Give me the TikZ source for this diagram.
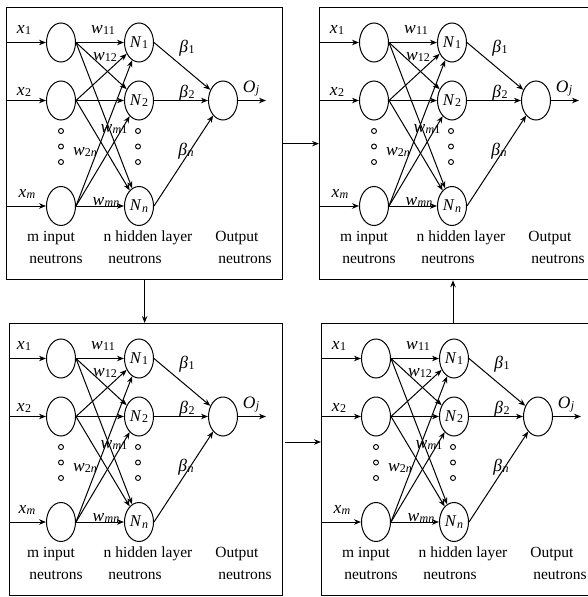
\documentclass[tikz,border=0pt]{standalone}
\usepackage{fontspec}
\setmainfont{Liberation Serif}
\usetikzlibrary{shapes.geometric,arrows.meta,calc}

% italic symbol with a subscript, set in the text font
\newcommand\symb[2]{\textit{#1}\kern0.3pt\raisebox{-1.5pt}{\fontsize{12}{13}\selectfont #2}}

\tikzset{
  neuron/.style={draw, ellipse, minimum width=29pt, minimum height=39pt,
    inner sep=0pt, line width=1pt, font=\fontsize{16.5}{18}\selectfont},
  dotc/.style={draw, circle, minimum size=5pt, inner sep=0pt, line width=0.9pt},
  link/.style={-{Stealth[length=7pt,width=5.5pt]}, line width=1pt},
  lbl/.style={font=\fontsize{15.5}{18}\selectfont, inner sep=0pt, anchor=base},
  mlbl/.style={font=\fontsize{17.5}{19}\selectfont, inner sep=0pt, anchor=base},
  panelbox/.style={draw, line width=1.3pt, inner sep=0pt, anchor=north west},
  % one single-hidden-layer network; #1 = where the input lines start
  panel/.pic={
    % neurons
    \node[neuron] (-in1) at (55,35.5) {};
    \node[neuron] (-in2) at (55,93.5) {};
    \node[neuron] (-inm) at (55,199) {};
    \node[neuron] (-h1) at (133,35.5) {\symb{N}{1}};
    \node[neuron] (-h2) at (133,93.5) {\symb{N}{2}};
    \node[neuron] (-hn) at (133,199) {\symb{N}{\textit{n}}};
    \node[neuron] (-out) at (217,93.5) {};
    % ellipsis dots
    \foreach \k/\y in {1/124,2/139.5,3/155} {
      \node[dotc] (-di\k) at (55,\y) {};
      \node[dotc] (-dh\k) at (132,\y) {};
    }
    % input lines
    \coordinate (-s1) at (#1,35.5);
    \coordinate (-s2) at (#1,93.5);
    \coordinate (-sm) at (#1,199);
    \draw[link] (-s1) -- (-in1);
    \draw[link] (-s2) -- (-in2);
    \draw[link] (-sm) -- (-inm);
    % input to hidden weights
    \foreach \a in {in1,in2,inm}
      \foreach \b in {h1,h2,hn}
        \draw[link] (-\a.east) -- (-\b);
    % hidden to output
    \foreach \b in {h1,h2,hn}
      \draw[link] (-\b.east) -- (-out);
    \coordinate (-oj) at (260,93.5);
    \draw[link] (-out) -- (-oj);
    % labels
    \node[mlbl] (-lx1) at (18,26) {\symb{x}{1}};
    \node[mlbl] (-lx2) at (18,88) {\symb{x}{2}};
    \node[mlbl] (-lxm) at (21,190) {\symb{x}{\textit{m}}};
    \node[mlbl] (-lw11) at (97,26) {\symb{w}{11}};
    \node[mlbl] (-lw12) at (99,53) {\symb{w}{12}};
    \node[mlbl] (-lwm1) at (108,125) {\symb{w}{\textit{m}1}};
    \node[mlbl] (-lw2n) at (79,148) {\symb{w}{2\textit{n}}};
    \node[mlbl] (-lwmn) at (100,198) {\symb{w}{\textit{mn}}};
    \node[mlbl] (-lb1) at (181,45) {\symb{β}{1}};
    \node[mlbl] (-lb2) at (181,90) {\symb{β}{2}};
    \node[mlbl] (-lbn) at (180,148) {\symb{β}{\textit{n}}};
    \node[mlbl] (-loj) at (245,85) {\symb{O}{\textit{j}}};
    \node[lbl] (-t1) at (45,234) {m input};
    \node[lbl] (-t2) at (50,256) {neutrons};
    \node[lbl] (-t3) at (142,234) {n hidden layer};
    \node[lbl] (-t4) at (129,256) {neutrons};
    \node[lbl] (-t5) at (231,234) {Output};
    \node[lbl] (-t6) at (239,256) {neutrons};
  }
}

\begin{document}
\begin{tikzpicture}[x=1pt, y=-1pt]
  \useasboundingbox (0,0) rectangle (588,597);

  % frames of the four networks
  \node[panelbox, minimum width=276pt, minimum height=272pt] (tlbox) at (6,7) {};
  \node[panelbox, minimum width=271pt, minimum height=272pt] (trbox) at (319,7) {};
  \node[panelbox, minimum width=273pt, minimum height=272pt] (blbox) at (9,323) {};
  \node[panelbox, minimum width=269pt, minimum height=272pt] (brbox) at (321,323) {};

  % the networks themselves
  \pic (tl) at (6,7) {panel=0};
  \pic (tr) at (319,7) {panel=0};
  \pic (bl) at (6,323) {panel=3};
  \pic (br) at (321,323) {panel=0};

  % flow between the networks
  \draw[link] (tlbox.east) -- (trbox.west);
  \draw[link] (tlbox.south) -- (tlbox.south |- blbox.north);
  \coordinate (bstart) at (285,442);
  \draw[link] (bstart) -- (bstart -| brbox.west);
  \coordinate (bup) at (453,323);
  \draw[link] (bup) -- (bup |- trbox.south);
\end{tikzpicture}
\end{document}
